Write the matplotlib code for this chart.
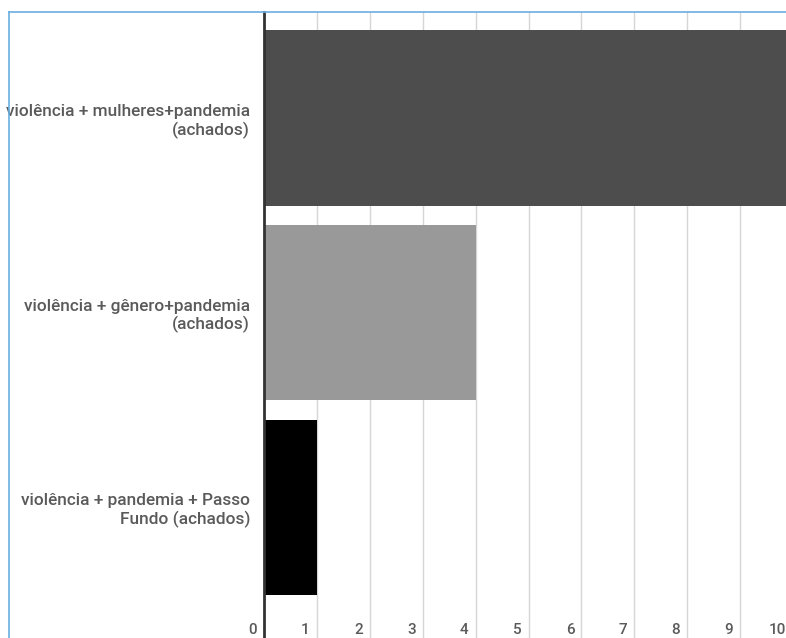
import matplotlib.pyplot as plt
from matplotlib.lines import Line2D
from matplotlib.transforms import ScaledTranslation

plt.rcParams['font.family'] = ['Roboto', 'DejaVu Sans']

# dados
categorias = ['violência + mulheres+pandemia\n(achados)',
              'violência + gênero+pandemia\n(achados)',
              'violência + pandemia + Passo\nFundo (achados)']
valores = [10, 4, 1]
cores = ['#4d4d4d', '#999999', '#000000']
ticks_x = list(range(0, 11))

W, H = 786, 638
fig = plt.figure(figsize=(W / 100, H / 100), dpi=100)
# eixo em pixels: x 264..793, y 12..638 (a direita passa da borda, como no recorte)
ax = fig.add_axes([264 / W, 0, 529 / W, (H - 12) / H])

pos = list(range(len(categorias)))
ax.barh(pos, valores, height=0.9, color=cores, zorder=2)

ax.set_xlim(0, 10)
ax.set_ylim(2.67, -0.544)

ax.set_yticks(pos)
ax.set_yticklabels(categorias, fontsize=12.4, fontweight='medium', color='#5a5a5a', ha='right')
ax.tick_params(axis='y', length=0, pad=10)

ax.set_xticks(ticks_x)
ax.set_xticklabels([str(t) for t in ticks_x], fontsize=11, fontweight='medium', color='#5a5a5a', ha='right')
ax.tick_params(axis='x', length=0, pad=-11)
for lbl in ax.get_xticklabels():
    lbl.set_transform(lbl.get_transform() + ScaledTranslation(-7 / 100, 0, fig.dpi_scale_trans))

ax.grid(axis='x', color='#d6d6d6', linewidth=1, zorder=0)
for s in ['top', 'right', 'bottom']:
    ax.spines[s].set_visible(False)
ax.spines['left'].set_color('#333333')
ax.spines['left'].set_linewidth(2)
ax.spines['left'].set_zorder(3)

# borda azul do recorte
fig.add_artist(Line2D([8.5 / W, 8.5 / W], [0, 1 - 11.5 / H], color='#6aaee0', linewidth=1.2))
fig.add_artist(Line2D([8.5 / W, 1], [1 - 11.5 / H, 1 - 11.5 / H], color='#6aaee0', linewidth=1.2))

plt.savefig('out.png', dpi=100)
